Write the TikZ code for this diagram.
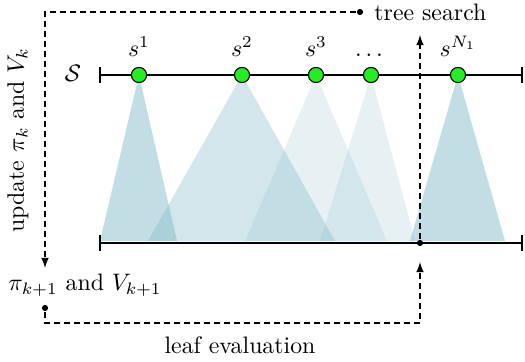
\documentclass[tikz,border=0pt]{standalone}
\usepackage{amsmath, amssymb}
\usepackage{tikz}
\usetikzlibrary{arrows.meta}

\definecolor{cone}{RGB}{120,180,195}
\definecolor{leafgreen}{RGB}{40,235,40}

\begin{document}
\begin{tikzpicture}[>=latex, x=0.42pt, y=-0.42pt]
\tikzset{
  state/.style={draw, circle, fill=leafgreen, inner sep=0pt, minimum size=6.3pt},
  dot/.style={circle, fill, inner sep=0pt, minimum size=2.6pt},
  flow/.style={line width=0.5pt, dash pattern=on 2.6pt off 1.6pt},
  rangeline/.style={line width=0.85pt, {|-|}},
}
\useasboundingbox (0,0) rectangle (525,362);

% 状態
\node[state] (s1) at (139,75) {};
\node[state] (s2) at (242,75) {};
\node[state] (s3) at (316,75) {};
\node[state] (s4) at (371,75) {};
\node[state] (s5) at (458,75) {};

% 円錐
\fill[cone, fill opacity=0.45] (s1.center) -- (100,241) -- (177,241) -- cycle;
\fill[cone, fill opacity=0.33] (s2.center) -- (148,241) -- (335,241) -- cycle;
\fill[cone, fill opacity=0.18] (s3.center) -- (245,241) -- (387,241) -- cycle;
\fill[cone, fill opacity=0.18] (s4.center) -- (320,241) -- (415,241) -- cycle;
\fill[cone, fill opacity=0.45] (s5.center) -- (410,241) -- (505,241) -- cycle;

% 軸
\coordinate (topL) at (99,75);
\coordinate (topR) at (523,75);
\coordinate (botL) at (99,243);
\coordinate (botR) at (523,243);
\draw[rangeline] (topL) -- (topR);
\draw[rangeline] (botL) -- (botR);
\foreach \i in {1,...,5} {
  \node[state] at (s\i) {};
}

\node (S) at (73,73) {$\mathcal{S}$};
\node[above=1pt] at (s1.north) {$s^1$};
\node[above=1pt] at (s2.north) {$s^2$};
\node[above=1pt] at (s3.north) {$s^3$};
\node[above=1pt] at (s4.north) {$\dots$};
\node[above=1pt] at (s5.north) {$s^{N_1}$};

% tree search
\node[dot] (ts) at (360,12) {};
\node[anchor=west] at (366,12) {tree search};
\coordinate (c0) at (45,12);
\coordinate (c1) at (45,268);
\draw[flow, ->] (ts) -- (c0) -- (c1);
\node[rotate=90] at (18,140) {update $\pi_k$ and $V_k$};

% leaf evaluation
\node at (85,285) {$\pi_{k+1}$ and $V_{k+1}$};
\node[dot] (ev) at (45,308) {};
\coordinate (d0) at (45,323);
\coordinate (d1) at (420,323);
\coordinate (d2) at (420,262);
\draw[flow, ->] (ev) -- (d0) -- (d1) -- (d2);
\node at (240,345) {leaf evaluation};

% 探索
\node[dot] (lf) at (420,243) {};
\coordinate (up) at (420,35);
\draw[flow, ->] (lf) -- (up);

\end{tikzpicture}
\end{document}
